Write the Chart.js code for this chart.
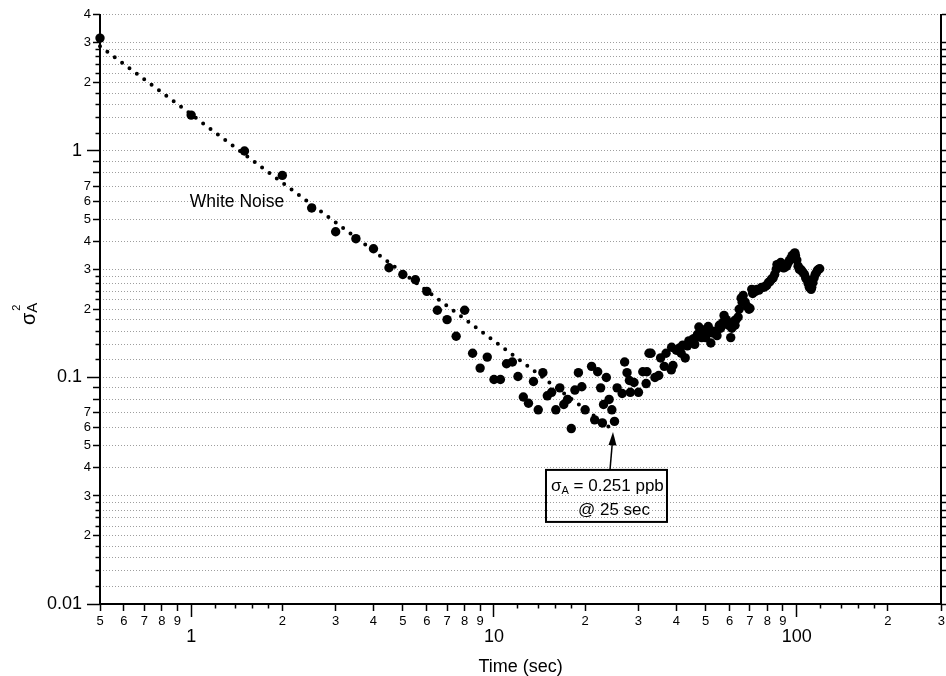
<!DOCTYPE html>
<html>
<head>
<meta charset="utf-8">
<script src="https://cdn.jsdelivr.net/npm/chart.js@4.4.1/dist/chart.umd.min.js"></script>
<style>
  body { margin: 0; background: #fff; }
  #wrap { width: 946px; height: 676px; }
</style>
</head>
<body>
<div id="wrap"><canvas id="myChart"></canvas></div>
<script>
// Allan variance readings (tau in seconds, sigma_A^2)
const tau = [
  0.5, 1.0, 1.5, 2.0, 2.5, 3.0, 3.5, 4.0, 4.5, 5.0, 5.5, 6.0, 6.5, 7.0, 7.5, 8.0, 8.5, 9.0, 9.5,
  10, 10.5, 11, 11.5, 12, 12.5, 13, 13.5, 14, 14.5, 15, 15.5, 16, 16.5, 17, 17.5, 18, 18.5, 19, 19.5,
  20, 21, 21.5, 22, 22.5, 22.8, 23, 23.5, 24, 24.5, 25, 25.5, 26.5, 27, 27.5, 28, 28.2, 29,
  30, 31, 31.8, 32, 32.5, 33, 34, 35, 35.5, 36.5, 37, 38.5, 38.6, 39,
  40, 41, 41.5, 42, 42.8, 43.5, 44, 45, 45.5, 46, 46.5, 47, 47.5, 48.5, 49, 49.5,
  50, 51, 51.5, 52, 53, 53.5, 54.5, 55.5, 56, 57, 57.5, 58.5, 59.5,
  60.5, 61, 62, 62.5, 63, 64, 64.5, 65.5, 66, 66.5, 67.5, 68.5, 69.5,
  70, 71, 71.5, 72.5, 73, 74, 75, 76.5, 77.5, 78.5, 79.5,
  80.5, 81.5, 82.5, 83.5, 84.5, 85.5, 86, 87, 88.5, 89.5,
  90, 91, 92.5, 93.5, 94.5, 95.5, 96.5, 97.5, 98.5, 99,
  100, 101, 102, 103, 104, 105, 106, 107, 108, 109,
  110, 111.5, 112, 113, 114, 115, 116, 117, 118, 119
];
const sigma2 = [
  3.15, 1.44, 1.0, 0.78, 0.56, 0.44, 0.41, 0.37, 0.305, 0.285, 0.27, 0.24, 0.198, 0.18, 0.152, 0.198, 0.128, 0.11, 0.123,
  0.098, 0.098, 0.115, 0.117, 0.101, 0.082, 0.077, 0.096, 0.072, 0.105, 0.083, 0.086, 0.072, 0.090, 0.076, 0.080, 0.0595, 0.088, 0.105, 0.091,
  0.072, 0.112, 0.065, 0.106, 0.090, 0.063, 0.076, 0.100, 0.080, 0.072, 0.064, 0.090, 0.085, 0.117, 0.105, 0.097, 0.086, 0.095,
  0.086, 0.106, 0.094, 0.106, 0.128, 0.128, 0.100, 0.102, 0.122, 0.112, 0.128, 0.108, 0.136, 0.113,
  0.132, 0.135, 0.128, 0.139, 0.122, 0.138, 0.145, 0.143, 0.148, 0.14, 0.15, 0.155, 0.167, 0.15, 0.162, 0.155,
  0.15, 0.168, 0.158, 0.142, 0.157, 0.16, 0.153, 0.17, 0.165, 0.175, 0.188, 0.18, 0.17,
  0.15, 0.165, 0.177, 0.17, 0.18, 0.185, 0.2, 0.224, 0.215, 0.23, 0.215, 0.206, 0.2,
  0.202, 0.245, 0.235, 0.243, 0.24, 0.245, 0.243, 0.25, 0.25, 0.252, 0.255,
  0.262, 0.265, 0.272, 0.275, 0.285, 0.3, 0.315, 0.315, 0.322, 0.315,
  0.305, 0.305, 0.31, 0.32, 0.328, 0.335, 0.345, 0.35, 0.355, 0.345,
  0.33, 0.31, 0.3, 0.3, 0.295, 0.29, 0.285, 0.275, 0.27, 0.26,
  0.25, 0.245, 0.25, 0.262, 0.275, 0.285, 0.29, 0.297, 0.3, 0.302
];

// white noise guide line (end points)
const whiteNoiseTau = [0.5, 25];
const whiteNoiseSigma2 = [2.9, 0.058];

// tick positions and labels
const xMajorTicks = [1, 10, 100];
const xMajorLabels = ["1", "10", "100"];
const xMinorTicks = [0.5, 0.6, 0.7, 0.8, 0.9, 2, 3, 4, 5, 6, 7, 8, 9, 20, 30, 40, 50, 60, 70, 80, 90, 200, 300];
const xMinorLabels = ["5", "6", "7", "8", "9", "2", "3", "4", "5", "6", "7", "8", "9", "2", "3", "4", "5", "6", "7", "8", "9", "2", "3"];
const xFineTicks = [1.2, 1.4, 1.6, 1.8, 12, 14, 16, 18, 120, 140, 160, 180];

const yMajorTicks = [0.01, 0.1, 1];
const yMajorLabels = ["0.01", "0.1", "1"];
const yMinorTicks = [0.02, 0.03, 0.04, 0.05, 0.06, 0.07, 0.08, 0.09, 0.2, 0.3, 0.4, 0.5, 0.6, 0.7, 0.8, 0.9, 2, 3, 4];
const yMinorLabels = ["2", "3", "4", "5", "6", "7", "", "", "2", "3", "4", "5", "6", "7", "", "", "2", "3", "4"];
const yFineTicks = [
  0.012, 0.014, 0.016, 0.018, 0.022, 0.024, 0.026, 0.028,
  0.12, 0.14, 0.16, 0.18, 0.22, 0.24, 0.26, 0.28,
  1.2, 1.4, 1.6, 1.8, 2.2, 2.4, 2.6, 2.8
];

const FONT = "'Liberation Sans', Arial, Helvetica, sans-serif";
Chart.defaults.font.family = FONT;
Chart.defaults.color = "#000";

const gridColor = "rgba(0,0,0,0.38)";

const fixBox = (size) => (scale) => {
  if (scale.isHorizontal()) scale.height = size;
  else scale.width = size;
  scale.paddingLeft = 0;
  scale.paddingRight = 0;
  scale.paddingTop = 0;
  scale.paddingBottom = 0;
};
const setTicks = (values) => (scale) => {
  scale.ticks = values.map((v) => ({ value: v }));
};

// labelled ticks (majors + minors) sorted, the label text is kept on the tick
const labelTicks = (majors, majorLabels, minors, minorLabels) =>
  [
    ...majors.map((v, i) => ({ value: v, text: majorLabels[i], major: true })),
    ...minors.map((v, i) => ({ value: v, text: minorLabels[i], major: false })),
  ].sort((a, b) => a.value - b.value);

const xLabelTicks = labelTicks(xMajorTicks, xMajorLabels, xMinorTicks, xMinorLabels);
const yLabelTicks = labelTicks(yMajorTicks, yMajorLabels, yMinorTicks, yMinorLabels);

// tick-mark only axes (no labels, zero size)
const xMarks = (ticks, len) => ({
  type: "logarithmic",
  position: "bottom",
  min: 0.5,
  max: 300,
  afterBuildTicks: setTicks(ticks),
  afterFit: fixBox(0),
  grid: { drawOnChartArea: false, tickLength: len, tickWidth: 1.5, tickColor: "#000" },
  border: { display: false },
  ticks: { autoSkip: false, maxRotation: 0, callback: () => "" },
});

const yMarks = (ticks, len, position) => ({
  type: "logarithmic",
  position: position || "left",
  min: 0.01,
  max: 4,
  afterBuildTicks: setTicks(ticks),
  afterFit: fixBox(position === "right" ? 3 : 0),
  grid: {
    drawOnChartArea: position !== "right",
    color: gridColor,
    lineWidth: 1,
    tickLength: len,
    tickWidth: 1.5,
    tickColor: "#000",
  },
  border: { display: position === "right", color: "#000", width: 2, dash: [1, 2] },
  ticks: { autoSkip: false, padding: 0, callback: () => "" },
});

const allYTicks = [...yMajorTicks, ...yMinorTicks, ...yFineTicks].sort((a, b) => a - b);

const labelsPlugin = {
  id: "labels",
  afterDraw(chart) {
    const { ctx, scales } = chart;
    const x = scales.x, y = scales.y;
    ctx.save();
    ctx.fillStyle = "#000";
    ctx.strokeStyle = "#000";

    // y axis title: sigma_A^2, rotated
    ctx.save();
    ctx.translate(35, 325);
    ctx.rotate(-Math.PI / 2);
    ctx.textBaseline = "alphabetic";
    ctx.textAlign = "left";
    ctx.font = "20px " + FONT;
    ctx.fillText("σ", 0, 0);
    const sw = ctx.measureText("σ").width;
    ctx.font = "15px " + FONT;
    ctx.fillText("A", sw, 2);
    ctx.font = "11px " + FONT;
    ctx.fillText("2", sw + 2, -15);
    ctx.restore();

    // White Noise label
    ctx.font = "17.5px " + FONT;
    ctx.textAlign = "left";
    ctx.textBaseline = "alphabetic";
    ctx.fillText("White Noise", x.getPixelForValue(0.99), y.getPixelForValue(0.567));

    // annotation box with arrow pointing at 25 s
    const tipX = x.getPixelForValue(25) - 1.5;
    const tipY = y.getPixelForValue(0.0575);
    const bx = tipX - 67, by = tipY + 38, bw = 121, bh = 52;
    ctx.lineWidth = 2;
    ctx.strokeRect(bx, by, bw, bh);
    ctx.lineWidth = 1.5;
    ctx.beginPath();
    ctx.moveTo(tipX - 3, by);
    ctx.lineTo(tipX - 0.6, tipY + 10);
    ctx.stroke();
    ctx.beginPath();
    ctx.moveTo(tipX, tipY);
    ctx.lineTo(tipX - 4.5, tipY + 13);
    ctx.lineTo(tipX + 3.5, tipY + 13.5);
    ctx.closePath();
    ctx.fill();

    ctx.font = "17px " + FONT;
    ctx.fillText("σ", bx + 5, by + 21);
    const s2 = ctx.measureText("σ").width;
    ctx.font = "11px " + FONT;
    ctx.fillText("A", bx + 5 + s2, by + 24);
    const aw = ctx.measureText("A").width;
    ctx.font = "17px " + FONT;
    ctx.fillText(" = 0.251 ppb", bx + 5 + s2 + aw, by + 21);
    ctx.fillText("@ 25 sec", bx + 32, by + 45);
    ctx.restore();
  },
};

const ctx = document.getElementById("myChart").getContext("2d");
new Chart(ctx, {
  type: "scatter",
  data: {
    datasets: [
      {
        type: "line",
        label: "White Noise",
        data: whiteNoiseTau.map((t, i) => ({ x: t, y: whiteNoiseSigma2[i] })),
        borderColor: "#000",
        borderWidth: 4,
        borderDash: [0, 9.2],
        borderCapStyle: "round",
        pointRadius: 0,
        fill: false,
        showLine: true,
        clip: false,
      },
      {
        label: "Allan variance",
        data: tau.map((t, i) => ({ x: t, y: sigma2[i] })),
        backgroundColor: "#000",
        borderWidth: 0,
        pointRadius: 4.7,
        pointHoverRadius: 4.7,
        clip: false,
      },
    ],
  },
  options: {
    responsive: true,
    maintainAspectRatio: false,
    animation: false,
    events: [],
    layout: { padding: { top: 14.6, left: 0, right: 0, bottom: 0 } },
    scales: {
      // label axis for time: majors sit one (short) line lower than minors
      x: {
        type: "logarithmic",
        position: "bottom",
        min: 0.5,
        max: 300,
        weight: 1,
        afterBuildTicks: (scale) => { scale.ticks = xLabelTicks.map((t) => ({ ...t })); },
        afterFit: fixBox(72),
        grid: { display: false, drawTicks: false },
        border: { display: true, color: "#000", width: 2 },
        ticks: {
          autoSkip: false, maxRotation: 0, minRotation: 0, padding: 10,
          font: (c) => (c.tick && c.tick.major ? { size: 18, lineHeight: 0.86 } : { size: 13 }),
          callback: (v, i, ticks) => (ticks[i].major ? ["", ticks[i].text] : ticks[i].text),
        },
        title: { display: true, text: "Time (sec)", color: "#000", font: { size: 18, lineHeight: 1 }, padding: 0 },
      },
      xMajorT: xMarks(xMajorTicks, 13),
      xMinorT: xMarks(xMinorTicks, 7),
      xFineT: xMarks(xFineTicks, 4.5),
      // label axis for sigma^2: majors pushed left by an en space
      y: {
        type: "logarithmic",
        position: "left",
        min: 0.01,
        max: 4,
        weight: 1,
        afterBuildTicks: (scale) => { scale.ticks = yLabelTicks.map((t) => ({ ...t })); },
        afterFit: fixBox(100),
        grid: { display: false, drawTicks: false },
        border: { display: true, color: "#000", width: 2 },
        ticks: {
          autoSkip: false, padding: 9,
          font: (c) => (c.tick && c.tick.major ? { size: 18 } : { size: 13 }),
          callback: (v, i, ticks) => (ticks[i].major ? ticks[i].text + "\u2002" : ticks[i].text),
        },
      },
      yMajorT: yMarks(yMajorTicks, 13),
      yMinorT: yMarks(yMinorTicks, 7),
      yFineT: yMarks(yFineTicks, 4.5),
      yRight: yMarks(allYTicks, 6, "right"),
    },
    plugins: {
      legend: { display: false },
      tooltip: { enabled: false },
    },
  },
  plugins: [labelsPlugin],
});
</script>
</body>
</html>
